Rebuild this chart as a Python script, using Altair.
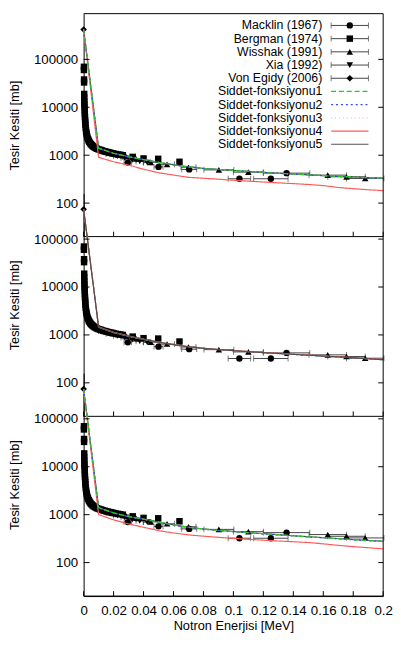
import altair as alt
import pandas as pd

# ---------------- data ----------------
SERIES = ["Macklin (1967)", "Bergman (1974)", "Wisshak (1991)", "Xia (1992)", "Von Egidy (2006)"]
SHAPES = ["circle", "square", "triangle-up", "triangle-down", "diamond"]
SIZES = [42, 46, 26, 26, 26]

FUNCS = ["Siddet-fonksiyonu1", "Siddet-fonksiyonu2", "Siddet-fonksiyonu3",
         "Siddet-fonksiyonu4", "Siddet-fonksiyonu5"]
F_COLORS = ["#22cc22", "#3344ff", "#ffbbbb", "#ff5a5a", "#505050"]
F_DASHES = [[5, 3], [2, 3], [1, 3], [1, 0], [1, 0]]
F_WIDTHS = [1.2, 1.2, 1.0, 1.3, 1.0]
# order in which the five functions are drawn in each panel (last one on top)
DRAW_ORDER = [[4, 3, 2, 1, 0], [0, 1, 2, 3, 4], [4, 3, 2, 1, 0]]

MACKLIN_X = [0.0295, 0.0500, 0.0705, 0.1040, 0.1250, 0.1355]
MACKLIN_Y = [700, 570, 505, 322, 322, 422]
MACKLIN_XERR = [0.0025, 0.003, 0.005, 0.0075, 0.0115, 0.0155]

BERGMAN_X = [0.0002, 0.0002, 0.0003, 0.0003, 0.0004, 0.0004, 0.0005, 0.0005, 0.0006, 0.0007,
             0.0008, 0.0009, 0.0010, 0.0011, 0.0012, 0.0014, 0.0016, 0.0018, 0.0020, 0.0023,
             0.0026, 0.0030, 0.0034, 0.0038, 0.0043, 0.0048, 0.0054, 0.0060, 0.0067, 0.0074,
             0.0082, 0.0090, 0.0100, 0.0110, 0.0120, 0.0130, 0.0140, 0.0150, 0.0160, 0.0170,
             0.0180, 0.0190, 0.0200, 0.0215, 0.0230, 0.0245, 0.0262, 0.0328, 0.0400, 0.0498,
             0.0640]
BERGMAN_Y = [70000, 60000, 38000, 33000, 19000, 16000, 13500, 11500, 10000, 8500,
             7200, 6200, 5400, 4800, 4300, 3700, 3300, 3000, 2750, 2500,
             2300, 2150, 2000, 1900, 1800, 1700, 1630, 1560, 1500, 1450,
             1400, 1360, 1320, 1290, 1260, 1230, 1200, 1180, 1160, 1140,
             1120, 1100, 1080, 1060, 1040, 1020, 1000, 923, 856, 840,
             729]
BERGMAN_XERR = [0.0] * len(BERGMAN_X)

WISSHAK_X = [0.0045, 0.0065, 0.0085, 0.0115, 0.0145, 0.0185, 0.0235, 0.0285, 0.0350,
             0.0448, 0.0557, 0.0700, 0.0903, 0.1100, 0.1630, 0.1755, 0.1880]
WISSHAK_Y = [1850, 1600, 1450, 1320, 1220, 1120, 1020, 930, 840,
             708, 645, 560, 493, 442, 384, 354, 327]
WISSHAK_XERR = [0.0005, 0.001, 0.001, 0.0015, 0.0015, 0.0025, 0.0025, 0.0025, 0.004,
                0.005, 0.005, 0.005, 0.01, 0.01, 0.0125, 0.0125, 0.0125]

XIA_X = [0.0125, 0.0175, 0.0225, 0.0275, 0.0325, 0.0375, 0.0425]
XIA_Y = [1200, 1060, 960, 880, 800, 740, 700]
XIA_XERR = [0.0025, 0.0025, 0.0025, 0.0025, 0.0025, 0.0025, 0.0025]

VONEGIDY_X = [0.0]
VONEGIDY_Y = [420000]
VONEGIDY_XERR = [0.0]

LINE_X = [0, 0.01, 0.02, 0.03, 0.04, 0.05, 0.06, 0.07, 0.08, 0.09, 0.10,
          0.11, 0.12, 0.13, 0.14, 0.15, 0.16, 0.17, 0.18, 0.19, 0.20]

# panel 1
P1_F1 = [420000, 1400, 1100, 930, 810, 710, 630, 570, 530, 505, 480, 460, 440, 420, 405, 390, 375, 362, 350, 340, 332]
P1_F2 = [420000, 1390, 1090, 925, 805, 705, 628, 568, 528, 502, 478, 458, 438, 418, 402, 388, 372, 358, 346, 336, 328]
P1_F3 = [420000, 1400, 1095, 928, 808, 708, 629, 569, 529, 503, 479, 459, 439, 419, 403, 389, 374, 360, 348, 338, 330]
P1_F4 = [420000, 900, 730, 620, 510, 430, 385, 345, 330, 315, 300, 288, 276, 265, 255, 245, 232, 212, 200, 190, 182]
P1_F5 = [420000, 1400, 1100, 930, 810, 710, 630, 570, 530, 505, 480, 460, 440, 420, 405, 390, 375, 362, 352, 342, 334]
# panel 2
P2_F1 = [420000, 1450, 1120, 940, 810, 705, 625, 565, 525, 495, 470, 448, 428, 410, 393, 378, 362, 347, 333, 318, 305]
P2_F2 = [420000, 1440, 1115, 935, 805, 700, 620, 560, 522, 492, 467, 445, 425, 407, 390, 375, 360, 345, 330, 316, 303]
P2_F3 = [420000, 1445, 1118, 938, 808, 703, 623, 563, 524, 494, 469, 447, 427, 409, 392, 377, 361, 346, 332, 317, 304]
P2_F4 = [420000, 1470, 1135, 950, 816, 710, 630, 569, 528, 498, 473, 451, 431, 413, 396, 381, 365, 350, 336, 321, 308]
P2_F5 = [420000, 1448, 1122, 942, 811, 705, 625, 565, 525, 495, 470, 448, 428, 410, 393, 378, 362, 347, 333, 318, 305]
# panel 3
P3_F1 = [420000, 1400, 1090, 910, 810, 700, 610, 545, 500, 470, 445, 420, 400, 380, 362, 345, 330, 315, 300, 288, 277]
P3_F2 = [420000, 1390, 1085, 905, 805, 695, 605, 540, 496, 466, 441, 417, 397, 377, 359, 342, 327, 312, 298, 286, 275]
P3_F3 = [420000, 1395, 1088, 908, 808, 698, 608, 543, 498, 468, 443, 419, 399, 379, 361, 344, 329, 314, 299, 287, 276]
P3_F4 = [420000, 1000, 780, 640, 545, 465, 415, 378, 355, 337, 320, 306, 293, 282, 272, 262, 246, 229, 215, 204, 193]
P3_F5 = [420000, 1400, 1092, 912, 812, 702, 612, 547, 502, 472, 447, 422, 402, 382, 364, 347, 332, 317, 302, 290, 279]

XTICKS = [0, 0.02, 0.04, 0.06, 0.08, 0.1, 0.12, 0.14, 0.16, 0.18, 0.2]
YTICKS = [100, 1000, 10000, 100000]
Y_DOMAIN = [20, 900000]

LEGEND_LABELS = SERIES + FUNCS

# ---------------- layout (pixels) ----------------
W = 305            # plot width
PH = 227           # height of one panel
STEP = 183         # vertical distance between panel tops (panels overlap)
TOTAL_H = 2 * STEP + PH
FONT = "Liberation Sans"


def sdf(name, xs, ys, es):
    return pd.DataFrame({"series": name, "x": xs, "y": ys,
                         "xlo": [a - e for a, e in zip(xs, es)],
                         "xhi": [a + e for a, e in zip(xs, es)]})


pts = pd.concat([
    sdf(SERIES[0], MACKLIN_X, MACKLIN_Y, MACKLIN_XERR),
    sdf(SERIES[1], BERGMAN_X, BERGMAN_Y, BERGMAN_XERR),
    sdf(SERIES[2], WISSHAK_X, WISSHAK_Y, WISSHAK_XERR),
    sdf(SERIES[3], XIA_X, XIA_Y, XIA_XERR),
    sdf(SERIES[4], VONEGIDY_X, VONEGIDY_Y, VONEGIDY_XERR),
], ignore_index=True)
bars = pts[pts["xhi"] > pts["xlo"]].copy()
caps = pd.concat([
    bars[["xlo", "y"]].rename(columns={"xlo": "xc"}),
    bars[["xhi", "y"]].rename(columns={"xhi": "xc"}),
], ignore_index=True)


def ldf(curves, order):
    frames = []
    for k in order:
        frames.append(pd.DataFrame({"fn": FUNCS[k], "x": LINE_X, "y": curves[k]}))
    return pd.concat(frames, ignore_index=True)


PANELS = [
    ldf([P1_F1, P1_F2, P1_F3, P1_F4, P1_F5], DRAW_ORDER[0]),
    ldf([P2_F1, P2_F2, P2_F3, P2_F4, P2_F5], DRAW_ORDER[1]),
    ldf([P3_F1, P3_F2, P3_F3, P3_F4, P3_F5], DRAW_ORDER[2]),
]

ytdf = pd.DataFrame({"v": YTICKS})
xtdf = pd.DataFrame({"v": XTICKS})
one = pd.DataFrame({"k": [0]})
leg = pd.DataFrame({"label": LEGEND_LABELS, "r": list(range(len(LEGEND_LABELS))),
                    "series": SERIES + [None] * 5, "fn": [None] * 5 + FUNCS})
leg_pts = leg.iloc[:5]
leg_lines = leg.iloc[5:]

XS = alt.Scale(domain=[0, 0.2], nice=False, zero=False)
SHAPE = alt.Shape("series:N", scale=alt.Scale(domain=SERIES, range=SHAPES), legend=None)
SIZE = alt.Size("series:N", scale=alt.Scale(domain=SERIES, range=SIZES), legend=None)
COLOR = alt.Color("fn:N", scale=alt.Scale(domain=FUNCS, range=F_COLORS), legend=None)
DASH = alt.StrokeDash("fn:N", scale=alt.Scale(domain=FUNCS, range=F_DASHES), legend=None)
SW = alt.StrokeWidth("fn:N", scale=alt.Scale(domain=FUNCS, range=F_WIDTHS), legend=None)

xaxis = alt.Axis(values=XTICKS, format="~g", ticks=False, grid=False, labelPadding=8,
                 titlePadding=3, labelFlush=False, labelOverlap=False,
                 domainColor="black", labelFontSize=13.5, titleFontSize=13,
                 titleFontWeight="normal", labelColor="black", titleColor="black",
                 title="Notron Enerjisi [MeV]")


def X(f):
    return alt.X(f, type="quantitative", scale=XS, axis=xaxis)


def panel(i):
    top = i * STEP
    bottom = top + PH
    ys = alt.Scale(type="log", domain=Y_DOMAIN, nice=False, range=[bottom, top])
    yaxis = alt.Axis(values=YTICKS, format="d", ticks=False, grid=False, labelPadding=6,
                     titlePadding=12, labelFlush=False, labelOverlap=False,
                     domainColor="black", orient="left",
                     labelFontSize=13.5, titleFontSize=13, titleFontWeight="normal",
                     labelColor="black", titleColor="black", title="Tesir Kesiti [mb]")

    def Y(f):
        return alt.Y(f, type="quantitative", scale=ys, axis=yaxis)

    bar_l = alt.Chart(bars).mark_rule(color="#444444", strokeWidth=1).encode(
        x=X("xlo"), x2="xhi", y=Y("y"))
    cap_l = alt.Chart(caps).mark_tick(orient="vertical", size=6, thickness=1,
                                      color="#444444").encode(x=X("xc"), y=Y("y"))
    pt_l = alt.Chart(pts).mark_point(filled=True, color="black", opacity=1).encode(
        x=X("x"), y=Y("y"), shape=SHAPE, size=SIZE)
    line_l = alt.Chart(PANELS[i]).mark_line().encode(
        x=X("x"), y=Y("y"), color=COLOR, strokeDash=DASH, strokeWidth=SW, detail="fn:N")
    ytl = alt.Chart(ytdf).mark_rule(color="black").encode(
        y=Y("v"), x=alt.value(0), x2=alt.value(6))
    ytr = alt.Chart(ytdf).mark_rule(color="black").encode(
        y=Y("v"), x=alt.value(W - 5), x2=alt.value(W))
    # bottom border of the panel and its inward x ticks
    bb = alt.Chart(one).mark_rule(color="black").encode(
        x=alt.value(0), x2=alt.value(W), y=alt.Y(datum=Y_DOMAIN[0], scale=ys, axis=yaxis))
    xtb = alt.Chart(xtdf).mark_rule(color="black", y2Offset=-5).encode(
        x=X("v"), y=alt.Y(datum=Y_DOMAIN[0], scale=ys, axis=yaxis),
        y2=alt.Y2(datum=Y_DOMAIN[0]))
    layers = [bar_l, cap_l, pt_l, line_l, ytl, ytr, bb, xtb]
    if i == 0:
        tb = alt.Chart(one).mark_rule(color="black").encode(
            x=alt.value(0), x2=alt.value(W), y=alt.Y(datum=Y_DOMAIN[1], scale=ys, axis=yaxis))
        layers.append(tb)
    return alt.layer(*layers)


# right border over the full height
rb = alt.Chart(one).mark_rule(color="black").encode(
    x=alt.value(W), y=alt.value(0), y2=alt.value(TOTAL_H))

# legend (top panel, gnuplot style: text on the left, sample on the right)
LY = alt.Y("r:O", scale=alt.Scale(type="point", domain=list(range(10)),
                                  range=[12, 133], padding=0), axis=None)
t_l = alt.Chart(leg).mark_text(align="right", baseline="middle", fontSize=12.5,
                               font=FONT, color="black").encode(
    x=alt.value(243), y=LY, text="label:N")
lb = alt.Chart(leg_pts).mark_rule(color="#444444").encode(
    x=alt.value(252), x2=alt.value(290), y=LY)
lc1 = alt.Chart(leg_pts).mark_tick(orient="vertical", size=6, thickness=1,
                                   color="#444444").encode(x=alt.value(252), y=LY)
lc2 = alt.Chart(leg_pts).mark_tick(orient="vertical", size=6, thickness=1,
                                   color="#444444").encode(x=alt.value(290), y=LY)
lp = alt.Chart(leg_pts).mark_point(filled=True, color="black", opacity=1).encode(
    x=alt.value(271), y=LY, shape=SHAPE, size=SIZE)
ll = alt.Chart(leg_lines).mark_rule().encode(
    x=alt.value(252), x2=alt.value(290), y=LY, color=COLOR, strokeDash=DASH,
    strokeWidth=SW)
legend_layer = alt.layer(t_l, lb, lc1, lc2, lp, ll, rb)

chart = alt.layer(panel(0), panel(1), panel(2), legend_layer).resolve_scale(
    y="independent").resolve_axis(y="independent").properties(
    width=W, height=TOTAL_H,
    autosize=alt.AutoSizeParams(type="none"),
    padding={"left": 77, "top": 0, "right": 10, "bottom": 40}
).configure(font=FONT).configure_view(stroke="transparent")

chart.save("out.html", embed_options={"renderer": "svg", "actions": False})
